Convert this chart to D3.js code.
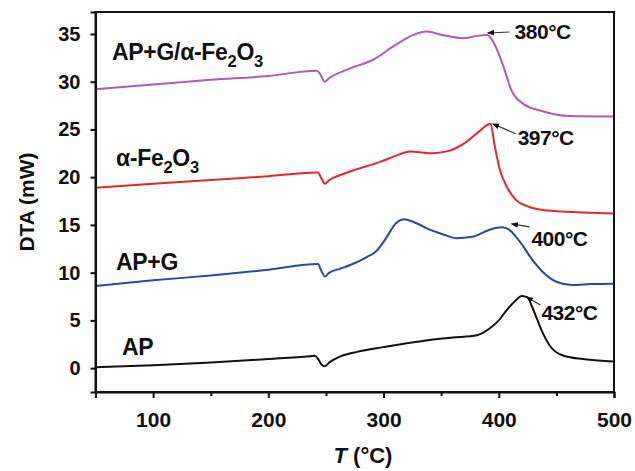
<!DOCTYPE html>
<html>
<head>
<meta charset="utf-8">
<script src="https://cdn.jsdelivr.net/npm/d3@7"></script>
<style>
  html, body { margin: 0; padding: 0; background: #fff; }
  svg { display: block; font-family: "Liberation Sans", Arial, sans-serif; }
</style>
</head>
<body>
<svg id="chart" width="635" height="471"></svg>
<script>
// ---- data ----
const xTicks = [100, 200, 300, 400, 500];
const xMinorTicks = [150, 250, 350, 450];
const yTicks = [0, 5, 10, 15, 20, 25, 30, 35];

const apX = [50, 100, 150, 200, 236, 240, 243, 246, 249, 253, 262, 277, 300, 334, 360, 381, 392, 400, 407, 414, 420, 425, 429, 433, 437, 444, 455, 473, 492, 500];
const apY = [0.1, 0.3, 0.6, 0.95, 1.25, 1.3, 1.0, 0.4, 0.2, 0.6, 1.2, 1.7, 2.2, 2.85, 3.2, 3.45, 4.15, 5.0, 6.1, 7.0, 7.55, 7.4, 6.4, 5.2, 4.0, 2.4, 1.35, 0.95, 0.75, 0.7];

const apgX = [50, 100, 150, 200, 243, 246, 249, 253, 262, 271, 285, 294, 301, 311, 318, 328, 340, 352, 363, 377, 392, 403, 409, 415, 421, 427, 438, 450, 464, 480, 500];
const apgY = [8.6, 9.2, 9.7, 10.3, 10.9, 10.2, 9.6, 10.0, 10.4, 10.8, 11.6, 12.3, 13.4, 15.2, 15.6, 15.2, 14.5, 14.0, 13.6, 13.75, 14.5, 14.75, 14.5, 13.75, 12.8, 11.7, 10.1, 9.05, 8.7, 8.8, 8.85];

const feX = [50, 100, 150, 200, 243, 246, 249, 253, 262, 271, 297, 310, 323, 340, 355, 372, 383, 393, 396, 401, 407, 415, 424, 432, 455, 500];
const feY = [18.9, 19.3, 19.7, 20.1, 20.5, 19.9, 19.3, 19.7, 20.2, 20.6, 21.6, 22.2, 22.7, 22.5, 22.7, 23.7, 24.8, 25.6, 23.6, 20.75, 19.0, 17.6, 17.0, 16.7, 16.4, 16.2];

const mixX = [50, 100, 150, 200, 242, 245, 249, 253, 265, 271, 291, 311, 326, 337, 351, 369, 381, 390, 396, 404, 411, 421, 438, 461, 500];
const mixY = [29.2, 29.7, 30.2, 30.6, 31.15, 30.8, 30.0, 30.4, 31.1, 31.4, 32.3, 33.9, 34.9, 35.25, 34.9, 34.55, 34.8, 34.9, 34.0, 31.6, 29.1, 27.7, 26.9, 26.4, 26.35];

const seriesNames = ["AP", "AP+G", "α-Fe2O3", "AP+G/α-Fe2O3"];
const peakLabels = ["432°C", "400°C", "397°C", "380°C"];
const peakX = [424, 411, 394.7, 390.3];
const peakY = [7.45, 15.1, 25.6, 35.1];

// ---- layout ----
const W = 635, H = 471;
const margin = { top: 12, right: 21, bottom: 79, left: 95.5 };
const svg = d3.select("#chart");
const x = d3.scaleLinear().domain([50, 500]).range([margin.left, W - margin.right]);
const y = d3.scaleLinear().domain([-2.5, 37.3]).range([H - margin.bottom, margin.top]);

const colors = ["#111111", "#2f45a6", "#e5272f", "#b35aae"];
const series = [
  { name: seriesNames[0], xs: apX, ys: apY },
  { name: seriesNames[1], xs: apgX, ys: apgY },
  { name: seriesNames[2], xs: feX, ys: feY },
  { name: seriesNames[3], xs: mixX, ys: mixY }
];

const line = d3.line().x(d => x(d[0])).y(d => y(d[1])).curve(d3.curveMonotoneX);

series.forEach((s, i) => {
  svg.append("path")
    .datum(s.xs.map((v, k) => [v, s.ys[k]]))
    .attr("fill", "none")
    .attr("stroke", colors[i])
    .attr("stroke-width", 2)
    .attr("stroke-linejoin", "round")
    .attr("d", line);
});

// frame
svg.append("rect")
  .attr("x", x(50)).attr("y", y(37.3))
  .attr("width", x(500) - x(50)).attr("height", y(-2.5) - y(37.3))
  .attr("fill", "none").attr("stroke", "#111").attr("stroke-width", 2);

// axes
const xAxis = svg.append("g").attr("transform", `translate(0,${y(-2.5)})`)
  .call(d3.axisBottom(x).tickValues(xTicks).tickSize(6).tickPadding(14).tickFormat(d3.format("d")));
svg.append("g").attr("transform", `translate(0,${y(-2.5)})`)
  .call(d3.axisBottom(x).tickValues(xMinorTicks).tickSize(4).tickFormat(""))
  .call(g => g.select(".domain").remove());
const yAxis = svg.append("g").attr("transform", `translate(${x(50)},0)`)
  .call(d3.axisLeft(y).tickValues(yTicks).tickSize(5).tickPadding(10).tickFormat(d3.format("d")));

svg.selectAll(".domain").attr("stroke", "#111").attr("stroke-width", 2);
svg.selectAll(".tick line").attr("stroke", "#111").attr("stroke-width", 2);
xAxis.selectAll("text").attr("font-size", 21).attr("font-weight", "bold").attr("fill", "#111")
  .attr("font-family", "Liberation Sans, Arial, sans-serif");
yAxis.selectAll("text").attr("font-size", 20).attr("font-weight", "bold").attr("fill", "#111")
  .attr("font-family", "Liberation Sans, Arial, sans-serif");

// axis titles
svg.append("text")
  .attr("transform", `translate(34,${(y(37.3) + y(-2.5)) / 2}) rotate(-90)`)
  .attr("text-anchor", "middle")
  .attr("font-size", 21).attr("font-weight", "bold").attr("fill", "#111")
  .text("DTA (mW)");

const xt = svg.append("text")
  .attr("x", 363).attr("y", 463)
  .attr("text-anchor", "middle")
  .attr("font-size", 22).attr("font-weight", "bold").attr("fill", "#111");
xt.append("tspan").attr("font-style", "italic").text("T");
xt.append("tspan").text(" (°C)");

// series labels
function chemLabel(g, str) {
  const parts = str.split(/(\d)/);
  parts.forEach(p => {
    if (p === "") return;
    if (/^\d$/.test(p)) {
      g.append("tspan").attr("baseline-shift", "-40%").attr("font-size", "72%").text(p);
    } else {
      g.append("tspan").text(p);
    }
  });
}
const labelPos = [[122, 355], [116, 270], [116, 166], [112, 60]];
series.forEach((s, i) => {
  const t = svg.append("text")
    .attr("x", labelPos[i][0]).attr("y", labelPos[i][1])
    .attr("font-size", 23).attr("font-weight", "bold").attr("fill", "#111")
    .attr("letter-spacing", -0.3);
  chemLabel(t, s.name);
});

// peak annotations
const defs = svg.append("defs");
defs.append("marker").attr("id", "ah").attr("viewBox", "0 0 10 10")
  .attr("refX", 1).attr("refY", 5).attr("markerWidth", 6).attr("markerHeight", 6)
  .attr("orient", "auto")
  .append("path").attr("d", "M10,1 L0,5 L10,9 Z").attr("fill", "#111");

// [line end dx, line end dy, text dx, text baseline dy] relative to arrow tip
const annOffset = [[14, 8, 15, 23], [18, 3, 20, 22], [23, 10, 25, 21], [22, -1, 27, 6]];
peakLabels.forEach((lab, i) => {
  const px = x(peakX[i]), py = y(peakY[i]);
  const o = annOffset[i];
  svg.append("line")
    .attr("x1", px).attr("y1", py)
    .attr("x2", px + o[0]).attr("y2", py + o[1])
    .attr("stroke", "#333").attr("stroke-width", 1.2)
    .attr("marker-start", "url(#ah)");
  svg.append("text")
    .attr("x", px + o[2]).attr("y", py + o[3])
    .attr("font-size", 21).attr("font-weight", "bold").attr("fill", "#111")
    .attr("letter-spacing", -0.5)
    .text(lab);
});
</script>
</body>
</html>
